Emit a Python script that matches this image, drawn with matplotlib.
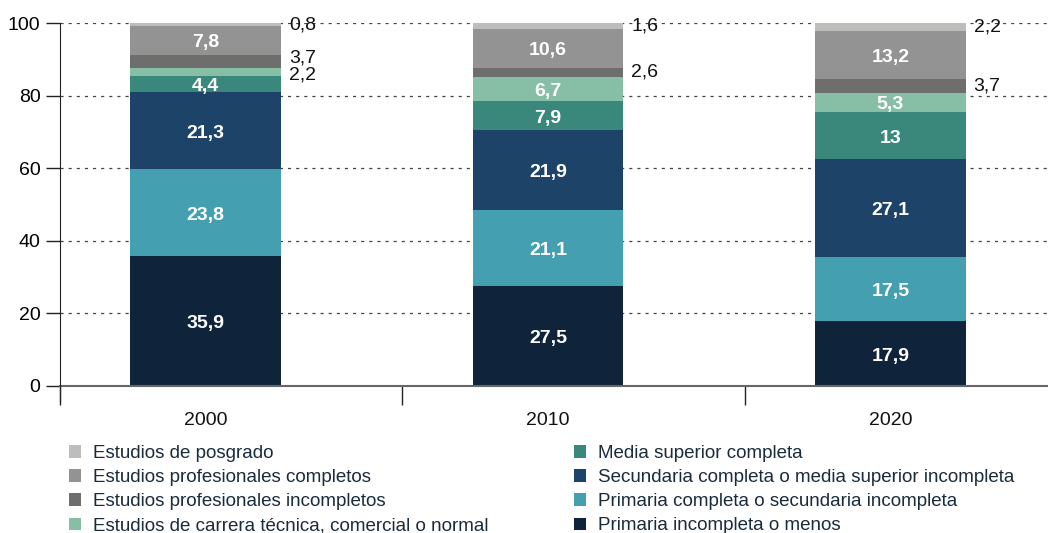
import matplotlib
matplotlib.use("Agg")
import matplotlib.pyplot as plt
from matplotlib.patches import Patch
import numpy as np

plt.rcParams['font.family'] = ['Liberation Sans', 'DejaVu Sans']

# Data (stack order: bottom -> top)
years = ["2000", "2010", "2020"]
categories = [
    "Primaria incompleta o menos",
    "Primaria completa o secundaria incompleta",
    "Secundaria completa o media superior incompleta",
    "Media superior completa",
    "Estudios de carrera técnica, comercial o normal",
    "Estudios profesionales incompletos",
    "Estudios profesionales completos",
    "Estudios de posgrado",
]
prim_inc = [35.9, 27.5, 17.9]
prim_comp = [23.8, 21.1, 17.5]
secundaria = [21.3, 21.9, 27.1]
media_sup = [4.4, 7.9, 13.0]
tecnica = [2.2, 6.7, 5.3]
prof_inc = [3.7, 2.6, 3.7]
prof_comp = [7.8, 10.6, 13.2]
posgrado = [0.8, 1.6, 2.2]
series = [prim_inc, prim_comp, secundaria, media_sup, tecnica, prof_inc, prof_comp, posgrado]

colors = ["#0f243b", "#44a0b0", "#1d4368", "#3a877b", "#86bfa6", "#6e6e6c", "#939393", "#bdbdbb"]

# which segments get their label outside (right of bar), by (series idx, year idx)
outside = {(7, 0), (5, 0), (4, 0), (7, 1), (5, 1), (7, 2), (5, 2)}
nudge = {(5, 0): 1.0, (4, 0): -0.8}


def fmt(v):
    s = f"{v:g}"
    return s.replace(".", ",")


fig = plt.figure(figsize=(10.48, 5.33), dpi=100)
ax = fig.add_axes([60 / 1048, 1 - 386 / 533, 1 - 60 / 1048, (386 - 23) / 533])

x = np.arange(len(years)) - 0.075
width = 0.44

for y in [20, 40, 60, 80, 100]:
    ax.axhline(y, color="#444444", lw=0.9, ls=(0, (2.5, 4)), zorder=0)

bottom = np.zeros(len(years))
for i, vals in enumerate(series):
    vals = np.array(vals)
    ax.bar(x, vals, width, bottom=bottom, color=colors[i], zorder=2, linewidth=0)
    for j, v in enumerate(vals):
        yc = bottom[j] + v / 2
        if (i, j) in outside:
            ax.text(x[j] + width / 2 + 0.023, yc + nudge.get((i, j), 0), fmt(v),
                    ha="left", va="center", fontsize=14, color="#111111", zorder=4)
        else:
            ax.text(x[j], yc - 0.7, fmt(v), ha="center", va="center", fontsize=14,
                    fontweight="bold", color="white", zorder=4)
    bottom += vals

ax.set_xlim(-0.5, 2.385)
ax.set_ylim(0, 100)
ax.set_yticks([0, 20, 40, 60, 80, 100])
ax.tick_params(axis="y", labelsize=14, length=10, direction="out", width=1, color="#222222", pad=4)

ax.set_xticks([-0.5, 0.5, 1.5])
ax.set_xticklabels([])
ax.tick_params(axis="x", length=14, direction="out", width=1, color="#222222")
for j, yr in enumerate(years):
    ax.text(x[j], -9.5, yr, ha="center", va="center", fontsize=14, color="#111111")

ax.spines["top"].set_visible(False)
ax.spines["right"].set_visible(False)
ax.spines["left"].set_color("#222222")
ax.spines["bottom"].set_color("#666666")
ax.spines["bottom"].set_linewidth(1.5)
ax.spines["left"].set_bounds(-4, 100)
ax.spines["left"].set_zorder(5)

handles = [Patch(facecolor=colors[i], label=categories[i]) for i in range(len(categories))][::-1]
common = dict(frameon=False, fontsize=13.5, handlelength=0.65, handleheight=0.65,
              handletextpad=0.65, labelspacing=0.38, borderpad=0, borderaxespad=0)
fig.legend(handles=handles[:4], loc="upper left", bbox_to_anchor=(69 / 1048, 1 - 445 / 533),
           labelcolor="#1a2b3c", **common)
fig.legend(handles=handles[4:], loc="upper left", bbox_to_anchor=(574 / 1048, 1 - 445 / 533),
           labelcolor="#1a2b3c", **common)

fig.savefig("out.png", dpi=100)
